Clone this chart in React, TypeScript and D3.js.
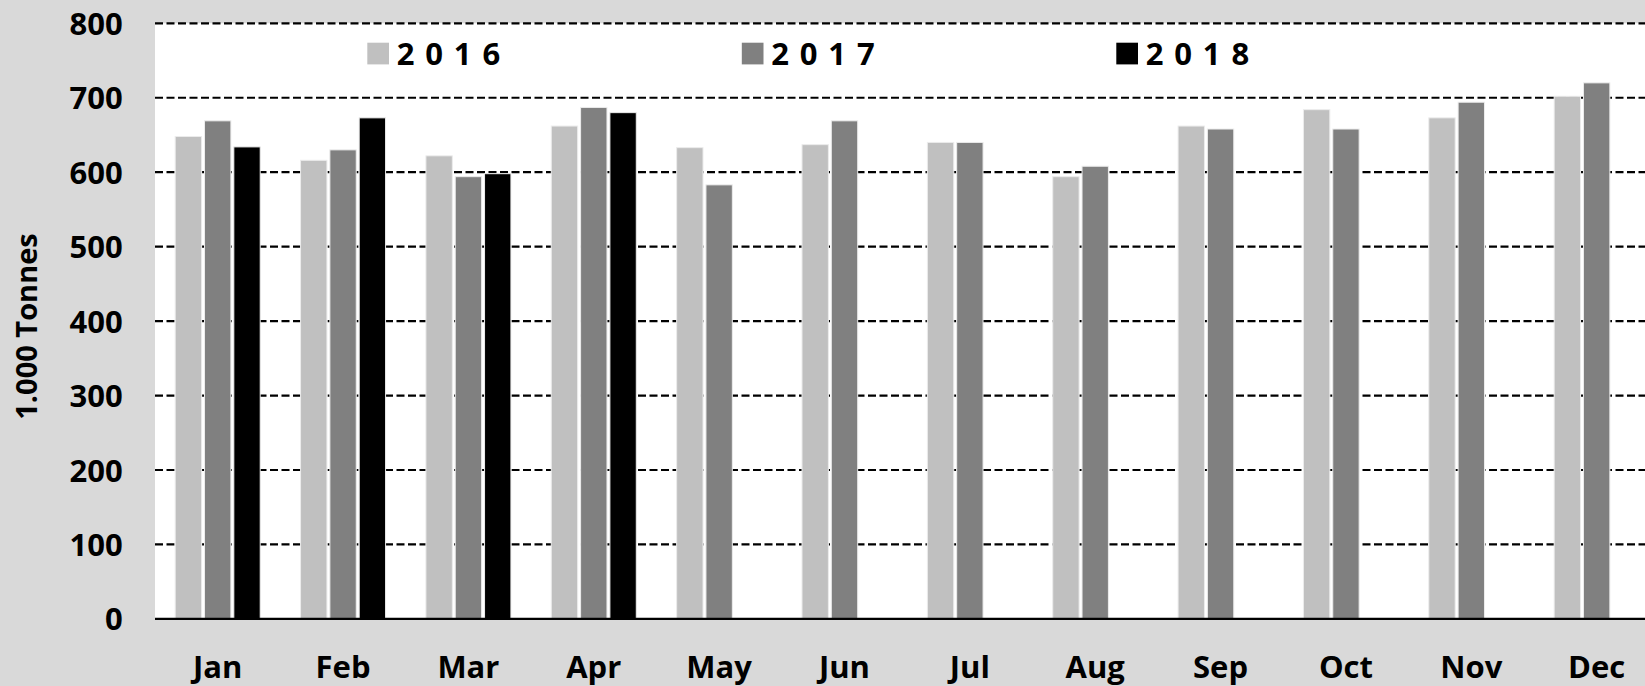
import * as d3 from "d3";

const WIDTH = 1645;
const HEIGHT = 686;
const MARGIN = { left: 155, top: 23.3, bottom: 66.7 };
const STEP = 125.36;

const months = ["Jan", "Feb", "Mar", "Apr", "May", "Jun", "Jul", "Aug", "Sep", "Oct", "Nov", "Dec"];
const years = ["2016", "2017", "2018"];
const values2016 = [648, 616, 622, 662, 633, 637, 640, 594, 662, 684, 673, 702];
const values2017 = [669, 630, 594, 687, 583, 669, 640, 608, 658, 658, 694, 720];
const values2018: (number | null)[] = [634, 673, 598, 680, null, null, null, null, null, null, null, null];
const yTicks = [0, 100, 200, 300, 400, 500, 600, 700, 800];
const colors = ["#C0C0C0", "#808080", "#000000"];

const FONT = "'Open Sans', sans-serif";

export default function App() {
  const series = [values2016, values2017, values2018];

  const x0 = d3
    .scaleBand<string>()
    .domain(months)
    .range([MARGIN.left, MARGIN.left + STEP * months.length]);

  const x1 = d3
    .scaleBand<string>()
    .domain(years)
    .range([20.2, 105.2])
    .paddingInner(0.1);

  const y = d3
    .scaleLinear()
    .domain([0, 800])
    .range([HEIGHT - MARGIN.bottom - 0.4, MARGIN.top]);

  // legend item positions
  const legend = d3.scalePoint<string>().domain(years).range([367.3, 1116.3]);

  return (
    <svg
      width={WIDTH}
      height={HEIGHT}
      style={{ position: "absolute", left: 0, top: 0, display: "block" }}
    >
      <rect width={WIDTH} height={HEIGHT} fill="#D9D9D9" />
      <rect
        x={MARGIN.left}
        y={y(800)}
        width={WIDTH - MARGIN.left}
        height={y(0) - y(800)}
        fill="#ffffff"
      />

      {/* gridlines */}
      {yTicks
        .filter((t) => t > 0)
        .map((t) => (
          <line
            key={t}
            x1={MARGIN.left}
            x2={WIDTH}
            y1={y(t)}
            y2={y(t)}
            stroke="#000"
            strokeWidth={2.2}
            strokeDasharray="8 3.5"
          />
        ))}

      {/* bars */}
      {months.map((m, i) => (
        <g key={m} transform={`translate(${x0(m)}, 0)`}>
          {series.map((vals, s) => {
            const v = vals[i];
            if (v == null) return null;
            return (
              <rect
                key={years[s]}
                x={x1(years[s])}
                y={y(v)}
                width={x1.bandwidth()}
                height={y(0) - y(v)}
                fill={colors[s]}
                stroke="#ececec"
                strokeWidth={1}
              />
            );
          })}
        </g>
      ))}

      {/* zero axis */}
      <line
        x1={MARGIN.left}
        x2={WIDTH}
        y1={y(0)}
        y2={y(0)}
        stroke="#000"
        strokeWidth={2.2}
      />

      {/* y tick labels */}
      {yTicks.map((t) => (
        <text
          key={t}
          x={122.7}
          y={y(t) + 11.5}
          textAnchor="end"
          fontFamily={FONT}
          fontWeight="bold"
          fontSize={31}
          fill="#000"
        >
          {t}
        </text>
      ))}

      {/* x labels */}
      {months.map((m) => (
        <text
          key={m}
          x={(x0(m) ?? 0) + x0.bandwidth() / 2}
          y={678}
          textAnchor="middle"
          fontFamily={FONT}
          fontWeight="bold"
          fontSize={31}
          fill="#000"
        >
          {m}
        </text>
      ))}

      {/* y axis title */}
      <text
        transform="translate(37, 326.5) rotate(-90)"
        textAnchor="middle"
        fontFamily={FONT}
        fontWeight="bold"
        fontSize={29}
        fill="#000"
      >
        1.000 Tonnes
      </text>

      {/* legend */}
      {years.map((yr, i) => (
        <g key={yr} transform={`translate(${legend(yr)}, 0)`}>
          <rect x={0} y={42.7} width={21.7} height={21.7} fill={colors[i]} />
          <text
            x={29.5}
            y={65}
            fontFamily={FONT}
            fontWeight="bold"
            fontSize={31}
            letterSpacing={10.8}
            fill="#000"
          >
            {yr}
          </text>
        </g>
      ))}
    </svg>
  );
}
